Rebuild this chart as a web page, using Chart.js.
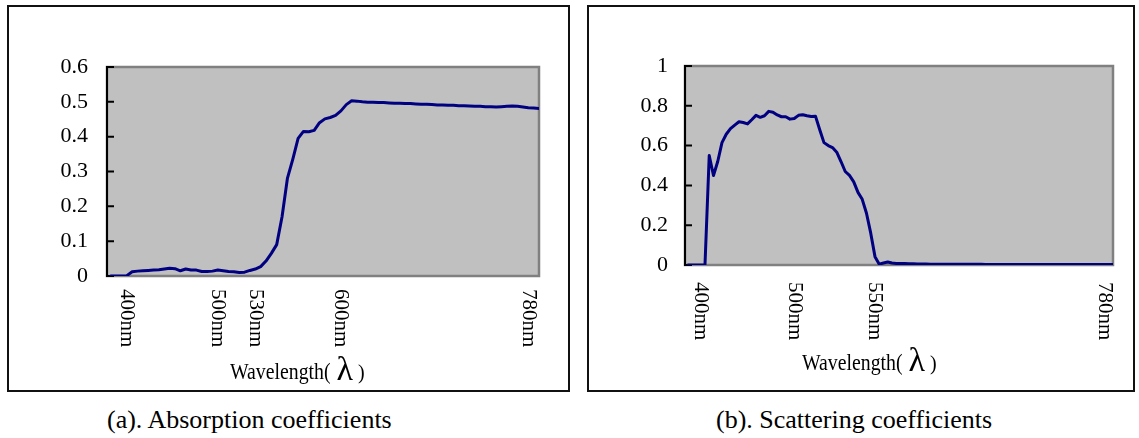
<!DOCTYPE html>
<html><head><meta charset="utf-8">
<script src="https://cdn.jsdelivr.net/npm/chart.js@4/dist/chart.umd.min.js"></script>
<style>
html,body{margin:0;padding:0;background:#fff;}
body{width:1139px;height:438px;position:relative;overflow:hidden;font-family:'Liberation Serif',serif;}
.panel{position:absolute;box-sizing:border-box;border:2px solid #111;}
.panel canvas{display:block;}
.cap{position:absolute;font-family:'Liberation Serif',serif;font-size:26px;color:#000;white-space:nowrap;line-height:1;}
</style></head><body>
<div class="panel" style="left:7px;top:5px;width:563px;height:387px;"><canvas id="ca" width="559" height="383"></canvas></div>
<div class="panel" style="left:587px;top:5px;width:548px;height:387px;"><canvas id="cb" width="544" height="383"></canvas></div>
<div class="cap" id="capA" style="left:107px;top:407px;"></div>
<div class="cap" id="capB" style="left:716px;top:407px;"></div>
<script>
// ---- data (x = sample index along the wavelength axis) ----
const captionA = '(a). Absorption coefficients';
const captionB = '(b). Scattering coefficients';
const xTitleMain = 'Wavelength(';
const xTitleSym = 'λ';
const xTitleEnd = ')';

const absorption = [0,0,0,0.001,0.012,0.014,0.015,0.016,0.017,0.018,
  0.02,0.022,0.021,0.015,0.02,0.017,0.017,0.013,0.013,0.014,
  0.017,0.015,0.013,0.012,0.01,0.011,0.016,0.02,0.027,0.043,
  0.065,0.09,0.17,0.28,0.335,0.395,0.415,0.414,0.418,0.44,
  0.451,0.455,0.461,0.474,0.492,0.503,0.502,0.5,0.499,0.499,
  0.498,0.498,0.497,0.496,0.496,0.495,0.495,0.494,0.493,0.493,
  0.492,0.491,0.491,0.49,0.49,0.489,0.489,0.488,0.487,0.487,
  0.486,0.486,0.485,0.486,0.487,0.488,0.487,0.485,0.483,0.482,0.481];
const absTickIndex = [3,20,27,43,78];
const absTickLabels = ['400nm','500nm','530nm','600nm','780nm'];
const absYLabels = ['0','0.1','0.2','0.3','0.4','0.5','0.6'];

const scattering = [0,0,0,0,0,0.55,0.45,0.52,0.615,0.657,
  0.685,0.703,0.72,0.716,0.709,0.73,0.752,0.742,0.75,0.772,
  0.768,0.754,0.745,0.745,0.733,0.736,0.752,0.755,0.75,0.746,
  0.748,0.68,0.615,0.6,0.59,0.567,0.52,0.47,0.45,0.418,
  0.365,0.33,0.26,0.16,0.042,0.004,0.01,0.015,0.01,0.008,
  0.007,0.007,0.006,0.006,0.005,0.005,0.005,0.004,0.004,0.004,
  0.004,0.004,0.004,0.004,0.004,0.004,0.004,0.004,0.004,0.004,
  0.003,0.003,0.003,0.003,0.003,0.003,0.003,0.003,0.003,0.003,
  0.003,0.003,0.003,0.003,0.003,0.003,0.003,0.003,0.003,0.003,
  0.003,0.003,0.003,0.003,0.003,0.003,0.003,0.003,0.003,0.003,0.003];
const scaTickIndex = [3,25,44,98];
const scaTickLabels = ['400nm','500nm','550nm','780nm'];
const scaYLabels = ['0','0.2','0.4','0.6','0.8','1'];

document.getElementById('capA').textContent = captionA;
document.getElementById('capB').textContent = captionB;

const SERIF = '"Liberation Serif", serif';

const framePlugin = {
  id: 'frame',
  beforeDatasetsDraw(chart, args, o) {
    const ctx = chart.ctx, a = chart.chartArea, y = chart.scales.y;
    ctx.save();
    ctx.fillStyle = '#c0c0c0';
    ctx.fillRect(a.left, a.top, a.right - a.left, a.bottom - a.top);
    ctx.strokeStyle = '#808080'; ctx.lineWidth = 2.5;
    ctx.strokeRect(a.left, a.top, a.right - a.left, a.bottom - a.top);
    ctx.strokeStyle = '#000'; ctx.lineWidth = 2;
    ctx.beginPath();
    ctx.moveTo(a.left, a.top - 1); ctx.lineTo(a.left, a.bottom + 1);
    y.ticks.forEach(t => {
      const py = y.getPixelForValue(t.value);
      ctx.moveTo(a.left, py); ctx.lineTo(a.left + 7, py);
    });
    ctx.stroke();
    ctx.restore();
  },
  afterDraw(chart, args, o) {
    const ctx = chart.ctx, a = chart.chartArea, x = chart.scales.x;
    ctx.save();
    ctx.fillStyle = '#000';
    ctx.font = '21px ' + SERIF;
    ctx.textAlign = 'left';
    ctx.textBaseline = 'middle';
    o.idx.forEach((i, k) => {
      const px = x.getPixelForValue(i);
      ctx.save();
      ctx.translate(px, a.bottom + o.labelDy);
      ctx.rotate(Math.PI / 2);
      ctx.fillText(o.labels[k], 0, 0);
      ctx.restore();
    });
    const tx = a.left + o.titleDx, ty = a.bottom + o.titleDy;
    ctx.textBaseline = 'alphabetic';
    ctx.save();
    ctx.translate(tx, ty); ctx.scale(0.86, 1);
    ctx.font = '23px ' + SERIF;
    ctx.fillText(xTitleMain, 0, 0);
    const w = ctx.measureText(xTitleMain).width * 0.86;
    ctx.restore();
    let cx = tx + w + 6;
    ctx.font = '34px ' + SERIF;
    ctx.fillText(xTitleSym, cx, ty + 1);
    cx += ctx.measureText(xTitleSym).width + 5;
    ctx.font = '20px ' + SERIF;
    ctx.fillText(xTitleEnd, cx, ty);
    ctx.restore();
  }
};

function makeChart(id, values, yLabels, o) {
  return new Chart(document.getElementById(id), {
    type: 'line',
    data: { datasets: [{
      data: values.map((v, i) => ({ x: i, y: v })),
      borderColor: '#000080', borderWidth: 3, pointRadius: 0,
      tension: 0, fill: false, borderJoinStyle: 'round', borderCapStyle: 'round'
    }]},
    options: {
      responsive: false, animation: false, devicePixelRatio: 1,
      layout: { padding: { top: o.padTop, right: o.padRight, left: 0, bottom: 0 } },
      plugins: {
        legend: { display: false }, tooltip: { enabled: false },
        frame: { idx: o.tickIdx, labels: o.tickLabels, labelDy: o.labelDy, titleDx: o.titleDx, titleDy: o.titleDy }
      },
      scales: {
        x: {
          type: 'linear', min: -0.7, max: values.length - 1,
          grid: { display: false }, border: { display: false },
          ticks: { display: false },
          afterFit: s => { s.height = o.xHeight; }
        },
        y: {
          min: 0, max: o.yMax,
          ticks: { stepSize: o.yStep, padding: o.yPad, color: '#000',
                   font: { family: SERIF, size: 22 },
                   callback: (v, i) => yLabels[i] },
          grid: { display: false, drawTicks: false }, border: { display: false },
          afterFit: s => { s.width = o.yWidth; }
        }
      }
    },
    plugins: [framePlugin]
  });
}

makeChart('ca', absorption, absYLabels, {
  padTop: 60, padRight: 29, xHeight: 114, yWidth: 98, yMax: 0.6, yStep: 0.1, yPad: 19,
  tickIdx: absTickIndex, tickLabels: absTickLabels, labelDy: 13, titleDx: 123, titleDy: 103
});
makeChart('cb', scattering, scaYLabels, {
  padTop: 59, padRight: 20, xHeight: 125, yWidth: 96, yMax: 1, yStep: 0.2, yPad: 17,
  tickIdx: scaTickIndex, tickLabels: scaTickLabels, labelDy: 17, titleDx: 117, titleDy: 105
});
</script>
</body></html>
